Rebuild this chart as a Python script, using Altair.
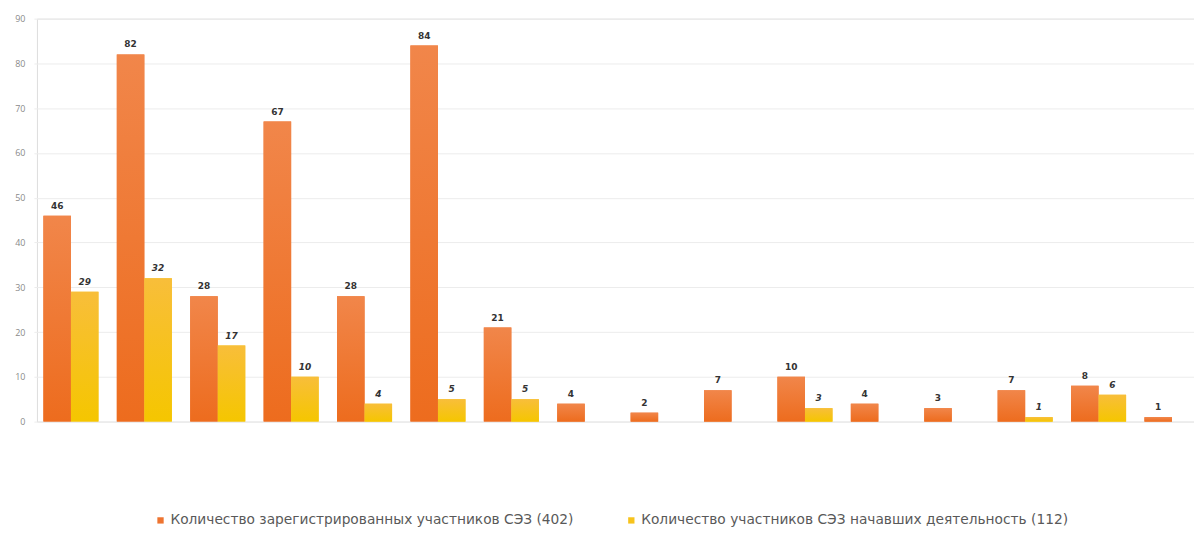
import altair as alt
import pandas as pd

groups = [str(i) for i in range(1, 17)]
registered = [46, 82, 28, 67, 28, 84, 21, 4, 2, 7, 10, 4, 3, 7, 8, 1]
started = [29, 32, 17, 10, 4, 5, 5, 0, 0, 0, 3, 0, 0, 1, 6, 0]
series_names = [
    "Количество зарегистрированных участников СЭЗ (402)",
    "Количество участников СЭЗ начавших деятельность (112)",
]

rows = []
for g, r, s in zip(groups, registered, started):
    rows.append({"group": g, "series": series_names[0], "value": r, "s": 0})
    rows.append({"group": g, "series": series_names[1], "value": s, "s": 1})
df = pd.DataFrame(rows)

W, H = 1160, 404
x_enc = alt.X("group:N", sort=groups, axis=None,
              scale=alt.Scale(paddingInner=0.25, paddingOuter=0.129, range=[-3, 1175]))
xo_enc = alt.XOffset("series:N", sort=series_names, scale=alt.Scale(domain=series_names))
y_enc = alt.Y("value:Q", scale=alt.Scale(domain=[0, 90], nice=False),
              axis=alt.Axis(values=list(range(0, 91, 10)), title=None, ticks=False, domain=False,
                            labelColor="#8a8a8a", labelFontSize=9, labelPadding=12,
                            gridColor="#ececec", gridWidth=1, minExtent=20, maxExtent=20,
                            labelFont="Open Sans"))

base = alt.Chart(df).encode(x=x_enc, xOffset=xo_enc)

bars = base.transform_filter("datum.value > 0").mark_bar().encode(
    y=y_enc,
    color=alt.Color("series:N", sort=series_names,
                    scale=alt.Scale(domain=series_names, range=["#ee7430", "#f7c31c"]),
                    legend=alt.Legend(title=None, orient="none", legendX=117, legendY=496,
                                      direction="horizontal", symbolType="square", symbolSize=40,
                                      labelFontSize=13.8, labelColor="#595959", labelFont="DejaVu Sans",
                                      labelOffset=3, columnPadding=50, labelLimit=700,
                                      symbolStrokeWidth=0)),
)

orange_grad = alt.Gradient(gradient="linear", x1=0, x2=0, y1=0, y2=1, stops=[
    alt.GradientStop(color="#f1864a", offset=0),
    alt.GradientStop(color="#ed6c1e", offset=1),
])
yellow_grad = alt.Gradient(gradient="linear", x1=0, x2=0, y1=0, y2=1, stops=[
    alt.GradientStop(color="#f8be3a", offset=0),
    alt.GradientStop(color="#f5c600", offset=1),
])

orange = base.transform_filter("datum.s == 0 && datum.value > 0").mark_bar(color=orange_grad).encode(y="value:Q")
yellow = base.transform_filter("datum.s == 1 && datum.value > 0").mark_bar(color=yellow_grad).encode(y="value:Q")

lab_o = base.transform_filter("datum.s == 0 && datum.value > 0").mark_text(
    dy=-10, fontSize=9, fontWeight="bold", color="#333333", font="DejaVu Sans"
).encode(y="value:Q", text="value:Q")
lab_y = base.transform_filter("datum.s == 1 && datum.value > 0").mark_text(
    dy=-10, fontSize=9, fontWeight="bold", fontStyle="italic", color="#333333", font="DejaVu Sans"
).encode(y="value:Q", text="value:Q")

chart = alt.layer(bars, orange, yellow, lab_o, lab_y).properties(
    width=W, height=H, padding={"left": 6, "top": 6, "right": 0, "bottom": 8}
).configure_view(stroke=None).configure(background="white")

chart.save("out.html", embed_options={"renderer": "svg", "actions": False})
